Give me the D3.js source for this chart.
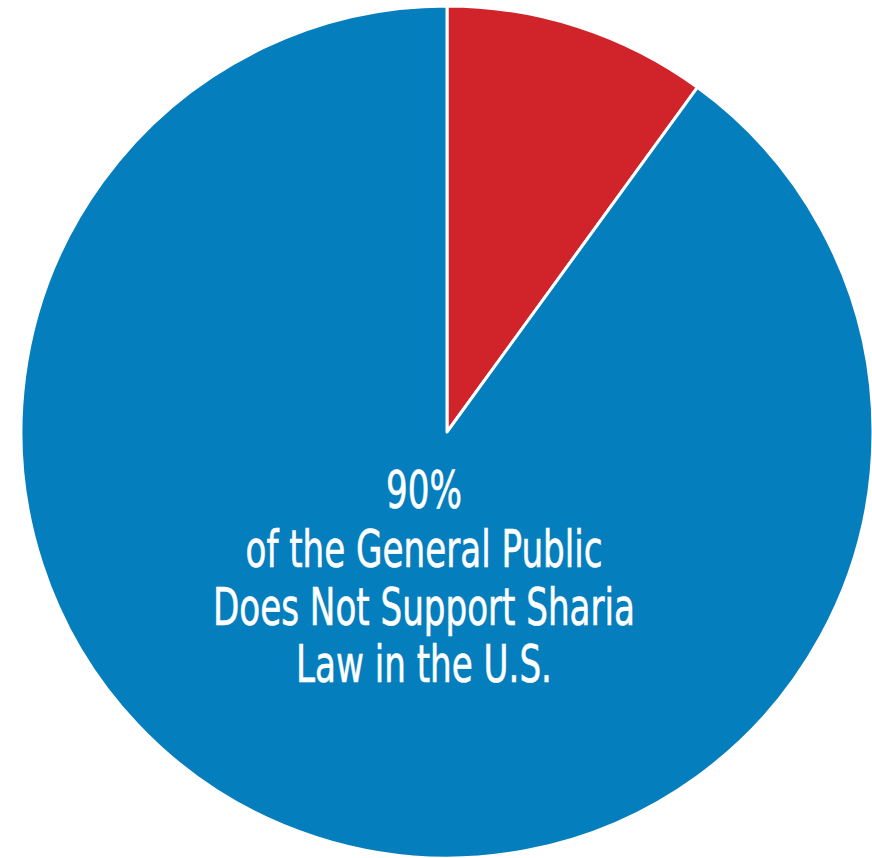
<!DOCTYPE html>
<html><head><meta charset="utf-8">
<script src="https://cdn.jsdelivr.net/npm/d3@7"></script>
<style>html,body{margin:0;padding:0;background:#fff;}svg{display:block;}</style>
</head><body>
<svg id="chart" width="872" height="858"></svg>
<script>
const categories = ["Supports Sharia Law", "Does Not Support Sharia Law"];
const values = [10, 90];
const colors = ["#D0232A", "#057EBD"];
const labelLines = ["90%", "of the General Public", "Does Not Support Sharia", "Law in the U.S."];

const svg = d3.select("#chart");
const cx = 447, cy = 432, r = 426;
const g = svg.append("g").attr("transform", `translate(${cx},${cy})`);

const pie = d3.pie().sort(null).value(d => d.v);
const arc = d3.arc().innerRadius(0).outerRadius(r);
const data = categories.map((c, i) => ({c, v: values[i], col: colors[i]}));

g.selectAll("path").data(pie(data)).join("path")
  .attr("d", arc)
  .attr("fill", d => d.data.col)
  .attr("stroke", "#fff")
  .attr("stroke-width", 3)
  .attr("stroke-linejoin", "round");

const tg = svg.append("g");
const baselines = [508, 567, 625, 682];
const texts = tg.selectAll("text").data(labelLines).join("text")
  .attr("text-anchor", "middle")
  .attr("font-family", "'Liberation Sans Narrow', 'DejaVu Sans Condensed', 'Roboto', sans-serif")
  .attr("font-size", 52)
  .attr("fill", "#fff")
  .attr("stroke", "#fff")
  .attr("stroke-width", 0.6)
  .text(d => d);
const target = 422;
const w = texts.filter((d, i) => i === 2).node().getComputedTextLength();
const sx = target / w;
texts.attr("transform", (d, i) => `translate(424,${baselines[i]}) scale(${sx},1)`);
</script>
</body></html>
